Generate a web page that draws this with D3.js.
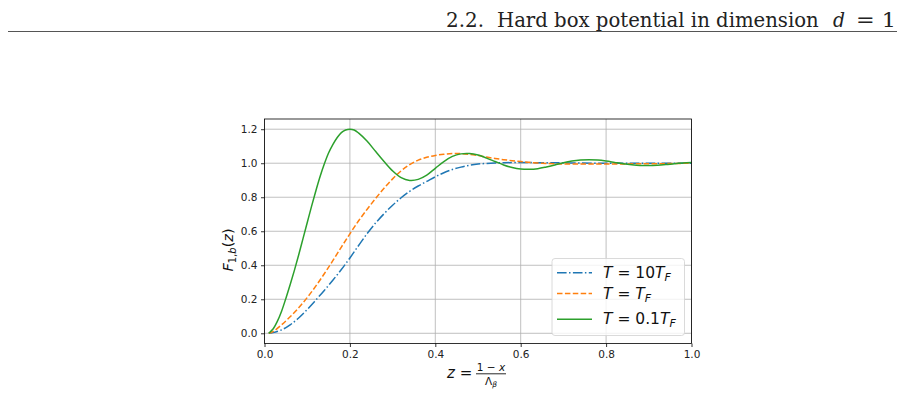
<!DOCTYPE html>
<html>
<head>
<meta charset="utf-8">
<script src="https://cdn.jsdelivr.net/npm/d3@7"></script>
<style>
  body { margin: 0; background: white; }
  svg { display: block; }
  .tick text { font-family: "DejaVu Sans", sans-serif; font-size: 10.5px; fill: #222; }
</style>
</head>
<body>
<div id="chart"></div>
<script>
// data: [z, F_{1,b}(z)]
const series_names = ["T = 10T_F", "T = T_F", "T = 0.1T_F"];
const series_colors = ["#1f77b4", "#ff7f0e", "#2ca02c"];

const hot = [
  [0.01, 0], [0.02, 0.004], [0.04, 0.02], [0.06, 0.05], [0.08, 0.09], [0.10, 0.14],
  [0.12, 0.195], [0.14, 0.252], [0.16, 0.312], [0.18, 0.375], [0.20, 0.443], [0.22, 0.515],
  [0.24, 0.585], [0.26, 0.648], [0.28, 0.703], [0.30, 0.753], [0.32, 0.797], [0.34, 0.835],
  [0.36, 0.866], [0.38, 0.893], [0.40, 0.92], [0.42, 0.944], [0.44, 0.963], [0.46, 0.977],
  [0.48, 0.988], [0.50, 0.995], [0.53, 1.0], [0.56, 1.003], [0.60, 1.004], [0.65, 1.003],
  [0.70, 1.002], [0.80, 1.0], [0.90, 1.0], [1.0, 1.0]
];

const fermi = [
  [0.01, 0], [0.02, 0.01], [0.04, 0.05], [0.06, 0.097], [0.08, 0.15], [0.10, 0.21],
  [0.12, 0.277], [0.14, 0.35], [0.16, 0.427], [0.18, 0.507], [0.20, 0.585], [0.22, 0.66],
  [0.24, 0.728], [0.26, 0.792], [0.28, 0.853], [0.30, 0.908], [0.32, 0.955], [0.34, 0.992],
  [0.36, 1.018], [0.38, 1.035], [0.40, 1.046], [0.42, 1.053], [0.44, 1.057], [0.46, 1.057],
  [0.48, 1.052], [0.50, 1.045], [0.52, 1.036], [0.54, 1.028], [0.56, 1.021], [0.58, 1.015],
  [0.60, 1.01], [0.62, 1.005], [0.65, 1.0], [0.68, 0.997], [0.72, 0.995], [0.76, 0.995],
  [0.80, 0.995], [0.85, 0.996], [0.90, 0.997], [0.95, 0.998], [1.0, 1.0]
];

const cold = [
  [0.01, 0], [0.02, 0.025], [0.03, 0.07], [0.04, 0.13], [0.05, 0.205], [0.06, 0.285],
  [0.07, 0.37], [0.08, 0.46], [0.09, 0.555], [0.10, 0.65], [0.11, 0.745], [0.12, 0.835],
  [0.13, 0.92], [0.14, 0.995], [0.15, 1.06], [0.16, 1.11], [0.17, 1.15], [0.18, 1.18],
  [0.19, 1.195], [0.20, 1.2], [0.21, 1.195], [0.22, 1.178], [0.24, 1.13], [0.26, 1.07],
  [0.28, 1.01], [0.30, 0.955], [0.32, 0.915], [0.34, 0.899], [0.36, 0.905], [0.38, 0.93],
  [0.40, 0.97], [0.42, 1.01], [0.44, 1.04], [0.46, 1.055], [0.48, 1.057], [0.50, 1.048],
  [0.52, 1.03], [0.54, 1.01], [0.56, 0.99], [0.58, 0.975], [0.60, 0.966], [0.62, 0.964],
  [0.64, 0.968], [0.66, 0.978], [0.68, 0.99], [0.70, 1.003], [0.72, 1.013], [0.74, 1.019],
  [0.76, 1.021], [0.78, 1.019], [0.80, 1.013], [0.82, 1.005], [0.84, 0.997], [0.86, 0.991],
  [0.88, 0.987], [0.90, 0.986], [0.92, 0.988], [0.94, 0.992], [0.96, 0.997], [0.98, 1.001],
  [1.0, 1.004]
];

const x_ticks = [0, 0.2, 0.4, 0.6, 0.8, 1.0];
const y_ticks = [0, 0.2, 0.4, 0.6, 0.8, 1.0, 1.2];

const W = 903, H = 418;
const svg = d3.select("#chart").append("svg").attr("width", W).attr("height", H);

// page header like the thesis page; each piece is scaled to its measured width
const header = svg.append("g")
  .attr("font-family", "'DejaVu Serif', serif")
  .attr("font-size", 21)
  .attr("fill", "#222");
const header_parts = [
  {text: "2.2.", x: 446, w: 38, italic: false},
  {text: "Hard box potential in dimension", x: 497, w: 322, italic: false},
  {text: "d", x: 833, w: 12, italic: true},
  {text: "= 1", x: 856, w: 40, italic: false}
];
header_parts.forEach(p => {
  const t = header.append("text")
    .attr("x", 0).attr("y", 0)
    .attr("font-style", p.italic ? "italic" : "normal")
    .text(p.text);
  const natural = t.node().getComputedTextLength();
  t.attr("transform", "translate(" + p.x + ",27) scale(" + (p.w / natural) + ",1)");
});

svg.append("line")
  .attr("x1", 8).attr("x2", 897).attr("y1", 31.5).attr("y2", 31.5)
  .attr("stroke", "#555").attr("stroke-width", 1);

// scales
const x = d3.scaleLinear().domain([0, 1]).range([264.5, 691.5]);
const y = d3.scaleLinear().domain([-0.06, 1.26]).range([343.5, 119]);

// grid
svg.append("g")
  .selectAll("line")
  .data(x_ticks)
  .enter()
  .append("line")
  .attr("x1", d => x(d)).attr("x2", d => x(d))
  .attr("y1", y.range()[0]).attr("y2", y.range()[1])
  .attr("stroke", "#b0b0b0").attr("stroke-width", 0.8);

svg.append("g")
  .selectAll("line")
  .data(y_ticks)
  .enter()
  .append("line")
  .attr("x1", x.range()[0]).attr("x2", x.range()[1])
  .attr("y1", d => y(d)).attr("y2", d => y(d))
  .attr("stroke", "#b0b0b0").attr("stroke-width", 0.8);

// curves
const line = d3.line()
  .x(d => x(d[0]))
  .y(d => y(d[1]))
  .curve(d3.curveCatmullRom.alpha(0.5));

const all_series = [hot, fermi, cold];
const dashes = ["9.6,2.4,1.5,2.4", "5.5,2.4", null];

svg.append("g")
  .selectAll("path")
  .data(all_series)
  .enter()
  .append("path")
  .attr("d", line)
  .attr("fill", "none")
  .attr("stroke", (d, i) => series_colors[i])
  .attr("stroke-width", 1.5)
  .attr("stroke-dasharray", (d, i) => dashes[i]);

// axes
const x_axis = svg.append("g")
  .attr("transform", "translate(0," + y.range()[0] + ")")
  .call(d3.axisBottom(x).tickValues(x_ticks).tickFormat(d3.format(".1f")).tickSizeOuter(0).tickSize(3.5).tickPadding(3.5));
const y_axis = svg.append("g")
  .attr("transform", "translate(" + x.range()[0] + ",0)")
  .call(d3.axisLeft(y).tickValues(y_ticks).tickFormat(d3.format(".1f")).tickSizeOuter(0).tickSize(3.5).tickPadding(3.5));
[x_axis, y_axis].forEach(a => {
  a.select(".domain").remove();
  a.selectAll(".tick line").attr("stroke", "#000").attr("stroke-width", 0.8);
});

// frame
svg.append("rect")
  .attr("x", x.range()[0]).attr("y", y.range()[1])
  .attr("width", x.range()[1] - x.range()[0])
  .attr("height", y.range()[0] - y.range()[1])
  .attr("fill", "none")
  .attr("stroke", "#000")
  .attr("stroke-width", 0.8);

// y label F_{1,b}(z)
const ylab = svg.append("text")
  .attr("transform", "translate(233,250) rotate(-90)")
  .attr("text-anchor", "middle")
  .attr("font-family", "'DejaVu Sans', sans-serif")
  .attr("font-size", 14.5)
  .attr("fill", "#111");
ylab.append("tspan").attr("font-style", "italic").text("F");
ylab.append("tspan").attr("font-size", 10).attr("dy", 3).text("1,");
ylab.append("tspan").attr("font-size", 10).attr("font-style", "italic").text("b");
ylab.append("tspan").attr("dy", -3).text("(");
ylab.append("tspan").attr("font-style", "italic").text("z");
ylab.append("tspan").text(")");

// x label z = (1 - x) / Λ_β
const xl = svg.append("g").attr("font-family", "'DejaVu Sans', sans-serif").attr("fill", "#111");
const xz = xl.append("text").attr("x", 447).attr("y", 378).attr("font-size", 15);
xz.append("tspan").attr("font-style", "italic").text("z");
xz.append("tspan").text(" =");
const num = xl.append("text").attr("x", 491).attr("y", 371).attr("font-size", 10.5).attr("text-anchor", "middle");
num.append("tspan").text("1 \u2212 ");
num.append("tspan").attr("font-style", "italic").text("x");
xl.append("line")
  .attr("x1", 476).attr("x2", 506).attr("y1", 373.8).attr("y2", 373.8)
  .attr("stroke", "#111").attr("stroke-width", 0.9);
const den = xl.append("text").attr("x", 491).attr("y", 384.5).attr("font-size", 10.5).attr("text-anchor", "middle");
den.append("tspan").text("\u039B");
den.append("tspan").attr("font-size", 7.5).attr("font-style", "italic").attr("dy", 2).text("\u03B2");

// legend
const leg = svg.append("g");
leg.append("rect")
  .attr("x", 552).attr("y", 258.5)
  .attr("width", 132.5).attr("height", 77)
  .attr("rx", 3)
  .attr("fill", "white").attr("fill-opacity", 0.8)
  .attr("stroke", "#d0d0d0").attr("stroke-width", 0.8);

const leg_rows = [272.7, 293.5, 319.3];
const leg_items = leg.selectAll("g.item")
  .data(series_names)
  .enter()
  .append("g")
  .attr("class", "item")
  .attr("transform", (d, i) => "translate(0," + leg_rows[i] + ")");

leg_items.append("line")
  .attr("x1", 557).attr("x2", 592)
  .attr("stroke", (d, i) => series_colors[i])
  .attr("stroke-width", 1.5)
  .attr("stroke-dasharray", (d, i) => dashes[i]);

const lt = leg_items.append("text")
  .attr("x", 603).attr("y", 5)
  .attr("font-family", "'DejaVu Sans', sans-serif")
  .attr("font-size", 15.5)
  .attr("fill", "#111");
lt.each(function(d) {
  const t = d3.select(this);
  const parts = d.split(" = ");
  const rhs = parts[1].replace("T_F", "");
  t.append("tspan").attr("font-style", "italic").text("T");
  t.append("tspan").text(" = " + rhs);
  t.append("tspan").attr("font-style", "italic").text("T");
  t.append("tspan").attr("font-style", "italic").attr("font-size", 11).attr("dy", 3).text("F");
});
</script>
</body>
</html>
